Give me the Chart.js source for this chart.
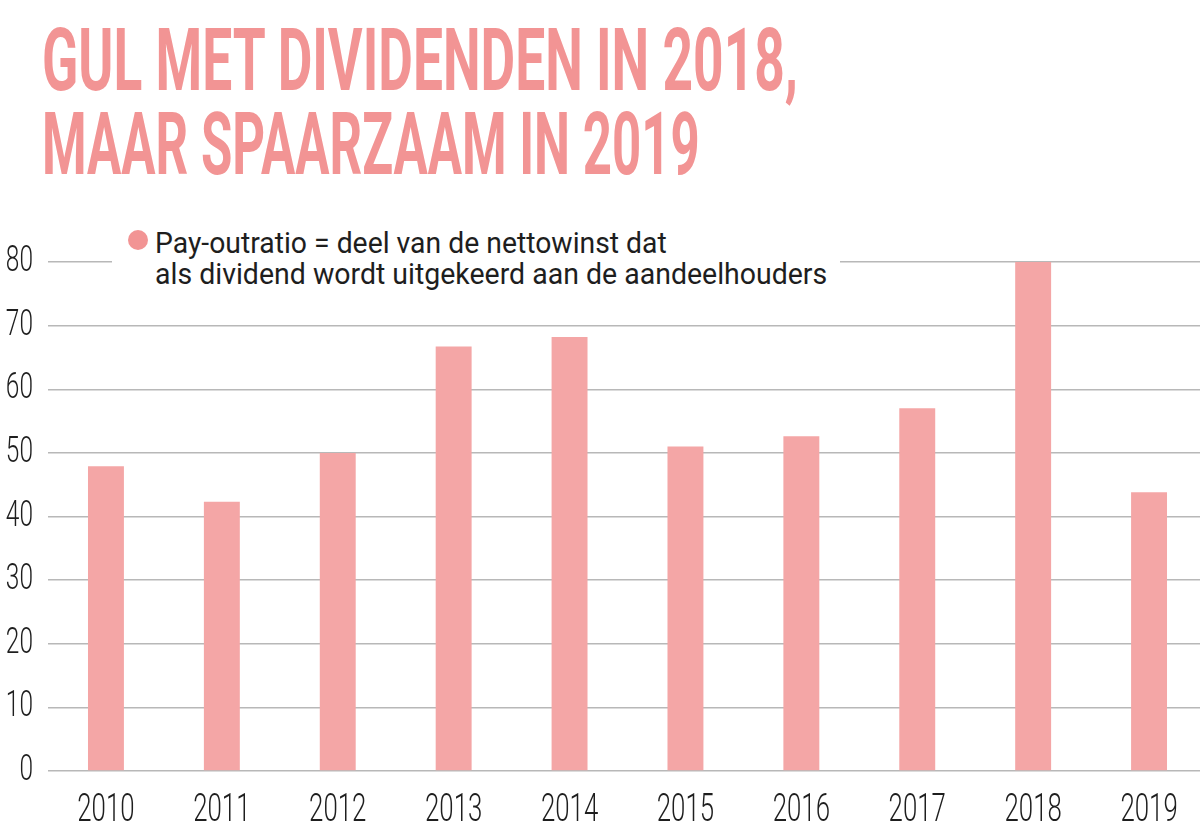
<!DOCTYPE html>
<html>
<head>
<meta charset="utf-8">
<script src="https://cdn.jsdelivr.net/npm/chart.js@4"></script>
<style>
  html, body { margin: 0; padding: 0; background: #fff; overflow: hidden; }
  body { width: 1200px; height: 830px; position: relative; }
  #chartWrap { position: absolute; left: 0; top: 0; width: 1210px; height: 830px; }
  .title {
    position: absolute; left: 42px; white-space: nowrap;
    font-family: 'Roboto', sans-serif;
    font-weight: bold; font-size: 88px; line-height: 1; color: #f29494;
    transform-origin: 0 0;
  }
  #legend {
    position: absolute; left: 112px; top: 222px; width: 728px; height: 80px;
    background: #fff;
  }
  #legend .dot {
    position: absolute; left: 16px; top: 8px; width: 20px; height: 20px;
    border-radius: 50%; background: #f29494;
  }
  #legend .line {
    position: absolute; left: 43px; white-space: nowrap; transform-origin: 0 0;
    font-family: 'Roboto', sans-serif;
    font-size: 30px; line-height: 1; color: #1e1e1e;
  }
</style>
</head>
<body>
<div id="chartWrap"><canvas id="payoutChart" width="1210" height="830"></canvas></div>
<div class="title" id="t1" style="top:16px">GUL MET DIVIDENDEN IN 2018,</div>
<div class="title" id="t2" style="top:100px">MAAR SPAARZAAM IN 2019</div>
<div id="legend">
  <div class="dot"></div>
  <div class="line" id="l1" style="top:6px">Pay-outratio = deel van de nettowinst dat</div>
  <div class="line" id="l2" style="top:37px">als dividend wordt uitgekeerd aan de aandeelhouders</div>
</div>
<script>
// data
const years = ["2010", "2011", "2012", "2013", "2014", "2015", "2016", "2017", "2018", "2019"];
const payoutRatio = [47.9, 42.3, 50, 66.7, 68.2, 51.0, 52.6, 57.0, 80, 43.8];
const yTicks = [0, 10, 20, 30, 40, 50, 60, 70, 80];

const pink = "#f4a6a6";
const tickFont = "'Roboto', sans-serif";

// squeeze a text line to a given width (the original uses a condensed face)
function fitWidth(id, target) {
  const el = document.getElementById(id);
  const w = el.scrollWidth;
  if (w > 0) el.style.transform = "scaleX(" + (target / w) + ")";
}
fitWidth("t1", 756);
fitWidth("t2", 658);
fitWidth("l1", 512);
fitWidth("l2", 672);

// no condensed face installed: narrow the axis labels while the scales draw
const condensedTicks = {
  id: "condensedTicks",
  beforeDraw(chart) {
    const ctx = chart.ctx;
    const orig = ctx.fillText;
    ctx.fillText = function (text, x, y, maxW) {
      this.save();
      this.translate(x, y);
      this.scale(0.68, 1);
      orig.call(this, text, 0, 0);
      this.restore();
    };
    chart.$origFillText = orig;
  },
  beforeDatasetsDraw(chart) {
    if (chart.$origFillText) {
      chart.ctx.fillText = chart.$origFillText;
      chart.$origFillText = null;
    }
  },
  afterDraw(chart) {
    if (chart.$origFillText) {
      chart.ctx.fillText = chart.$origFillText;
      chart.$origFillText = null;
    }
  }
};

const canvas = document.getElementById("payoutChart");
new Chart(canvas, {
  type: "bar",
  data: {
    labels: years,
    datasets: [{
      label: "Pay-outratio",
      data: payoutRatio,
      backgroundColor: pink,
      borderWidth: 0,
      barPercentage: 0.31,
      categoryPercentage: 1
    }]
  },
  plugins: [condensedTicks],
  options: {
    responsive: false,
    animation: false,
    layout: { padding: { top: 262, right: 3, left: 0, bottom: 0 } },
    plugins: { legend: { display: false }, tooltip: { enabled: false } },
    scales: {
      x: {
        grid: { display: false, drawTicks: false },
        border: { display: false },
        ticks: { color: "#1e1e1e", font: { family: tickFont, size: 38, weight: 300 }, padding: 18, maxRotation: 0 },
        afterFit: function (scale) { scale.height = 59; }
      },
      y: {
        min: 0,
        max: 80,
        afterBuildTicks: function (scale) { scale.ticks = yTicks.map(v => ({ value: v })); },
        grid: { color: "#b8b8b8", lineWidth: 1.5, drawTicks: false },
        border: { display: false },
        ticks: { color: "#1e1e1e", font: { family: tickFont, size: 36, weight: 300 }, padding: 15 },
        afterFit: function (scale) { scale.width = 48; }
      }
    }
  }
});
</script>
</body>
</html>
